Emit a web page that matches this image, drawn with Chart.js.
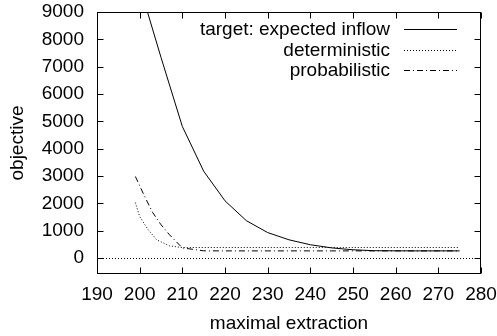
<!DOCTYPE html>
<html>
<head>
<meta charset="utf-8">
<script src="https://cdn.jsdelivr.net/npm/chart.js@4.4.0/dist/chart.umd.min.js"></script>
<style>
  html, body { margin: 0; padding: 0; background: #fff; }
</style>
</head>
<body>
<canvas id="chart" width="497" height="336"></canvas>
<script>
// values
var xTicks = [190, 200, 210, 220, 230, 240, 250, 260, 270, 280];
var yTicks = [0, 1000, 2000, 3000, 4000, 5000, 6000, 7000, 8000, 9000];

var targetX = [200, 205, 210, 215, 220, 225, 230, 235, 240, 245, 250, 255, 260, 265, 270, 275];
var targetY = [9960, 7340, 4815, 3180, 2095, 1370, 935, 670, 490, 375, 305, 272, 267, 265, 265, 265];

var detX = [199, 200, 202, 204, 207, 210, 215, 220, 225, 230, 235, 240, 245, 250, 255, 260, 265, 270, 275];
var detY = [2030, 1520, 1035, 670, 450, 385, 390, 390, 390, 390, 390, 390, 390, 390, 390, 390, 390, 390, 390];

var probX = [199, 201, 203, 205, 207, 210, 215, 220, 225, 230, 235, 240, 245, 250, 255, 260, 265, 270, 275];
var probY = [2985, 2310, 1680, 1220, 852, 375, 267, 265, 265, 265, 265, 265, 265, 265, 265, 265, 265, 265, 265];

var labels = ['target: expected inflow', 'deterministic', 'probabilistic'];

function pts(xs, ys) {
  return xs.map(function (x, i) { return { x: x, y: ys[i] }; });
}

var FONT = '"Liberation Sans", Arial, sans-serif';
var SIZE = 19;

// gnuplot style frame, inward ticks, zero axis and key
var frame = {
  id: 'frame',
  beforeDatasetsDraw: function (chart) {
    var ctx = chart.ctx, a = chart.chartArea;
    var y0 = Math.round(chart.scales.y.getPixelForValue(0)) + 0.5;
    ctx.save();
    ctx.strokeStyle = '#000';
    ctx.lineWidth = 1;
    ctx.setLineDash([1, 2]);
    ctx.beginPath();
    ctx.moveTo(a.left, y0);
    ctx.lineTo(a.right, y0);
    ctx.stroke();
    ctx.restore();
  },
  afterDraw: function (chart) {
    var ctx = chart.ctx, a = chart.chartArea;
    var L = Math.round(a.left) + 0.5, R = Math.round(a.right) - 0.5;
    var T = Math.round(a.top) + 0.5, B = Math.round(a.bottom) - 0.5;
    ctx.save();
    ctx.strokeStyle = '#000';
    ctx.lineWidth = 1;
    ctx.setLineDash([]);
    ctx.strokeRect(L, T, R - L, B - T);
    ctx.beginPath();
    xTicks.forEach(function (v) {
      var px = Math.round(chart.scales.x.getPixelForValue(v)) + 0.5;
      ctx.moveTo(px, B); ctx.lineTo(px, B - 6);
      ctx.moveTo(px, T); ctx.lineTo(px, T + 6);
    });
    yTicks.forEach(function (v) {
      var py = Math.round(chart.scales.y.getPixelForValue(v)) + 0.5;
      ctx.moveTo(L, py); ctx.lineTo(L + 6, py);
      ctx.moveTo(R, py); ctx.lineTo(R - 6, py);
    });
    ctx.stroke();

    // key, top right inside the plot
    ctx.font = SIZE + 'px ' + FONT;
    ctx.fillStyle = '#000';
    ctx.textAlign = 'right';
    ctx.textBaseline = 'middle';
    chart.data.datasets.forEach(function (ds, i) {
      var y = Math.round(a.top + 17 + i * 20.5) + 0.5;
      ctx.fillText(ds.label, a.right - 91, y);
      ctx.setLineDash(ds.borderDash || []);
      ctx.beginPath();
      ctx.moveTo(a.right - 77, y);
      ctx.lineTo(a.right - 24, y);
      ctx.stroke();
    });
    ctx.restore();
  }
};

var ctx = document.getElementById('chart').getContext('2d');
var myChart = new Chart(ctx, {
  type: 'line',
  data: {
    datasets: [{
      label: labels[0],
      data: pts(targetX, targetY),
      borderColor: '#000',
      borderWidth: 1
    }, {
      label: labels[1],
      data: pts(detX, detY),
      borderColor: '#000',
      borderWidth: 1,
      borderDash: [1, 2]
    }, {
      label: labels[2],
      data: pts(probX, probY),
      borderColor: '#000',
      borderWidth: 1,
      borderDash: [6, 3, 1, 3]
    }]
  },
  options: {
    responsive: false,
    animation: false,
    devicePixelRatio: 1,
    layout: { padding: { left: 0, right: 16, top: 12, bottom: 0 } },
    elements: { point: { radius: 0 }, line: { tension: 0 } },
    plugins: {
      legend: { display: false },
      tooltip: { enabled: false }
    },
    scales: {
      x: {
        type: 'linear',
        min: 190,
        max: 280,
        afterBuildTicks: function (s) { s.ticks = xTicks.map(function (v) { return { value: v }; }); },
        afterFit: function (s) { s.height = 62; s.paddingRight = 0; s.paddingLeft = 0; },
        grid: { display: false, drawTicks: false },
        border: { display: false },
        ticks: {
          color: '#000', padding: 9, maxRotation: 0, font: { family: FONT, size: SIZE },
          callback: function (v) { return String(v); }
        },
        title: {
          display: true,
          text: 'maximal extraction',
          color: '#000',
          padding: { top: 0, bottom: 1 },
          font: { family: FONT, size: SIZE }
        }
      },
      y: {
        type: 'linear',
        min: -580,
        max: 9000,
        afterBuildTicks: function (s) { s.ticks = yTicks.map(function (v) { return { value: v }; }); },
        afterFit: function (s) { s.width = 97; s.paddingTop = 0; s.paddingBottom = 0; },
        grid: { display: false, drawTicks: false },
        border: { display: false },
        ticks: {
          color: '#000', padding: 13, font: { family: FONT, size: SIZE },
          callback: function (v) { return String(v); }
        },
        title: {
          display: true,
          text: 'objective',
          color: '#000',
          padding: { top: 6, bottom: 0 },
          font: { family: FONT, size: SIZE }
        }
      }
    }
  },
  plugins: [frame]
});
</script>
</body>
</html>
